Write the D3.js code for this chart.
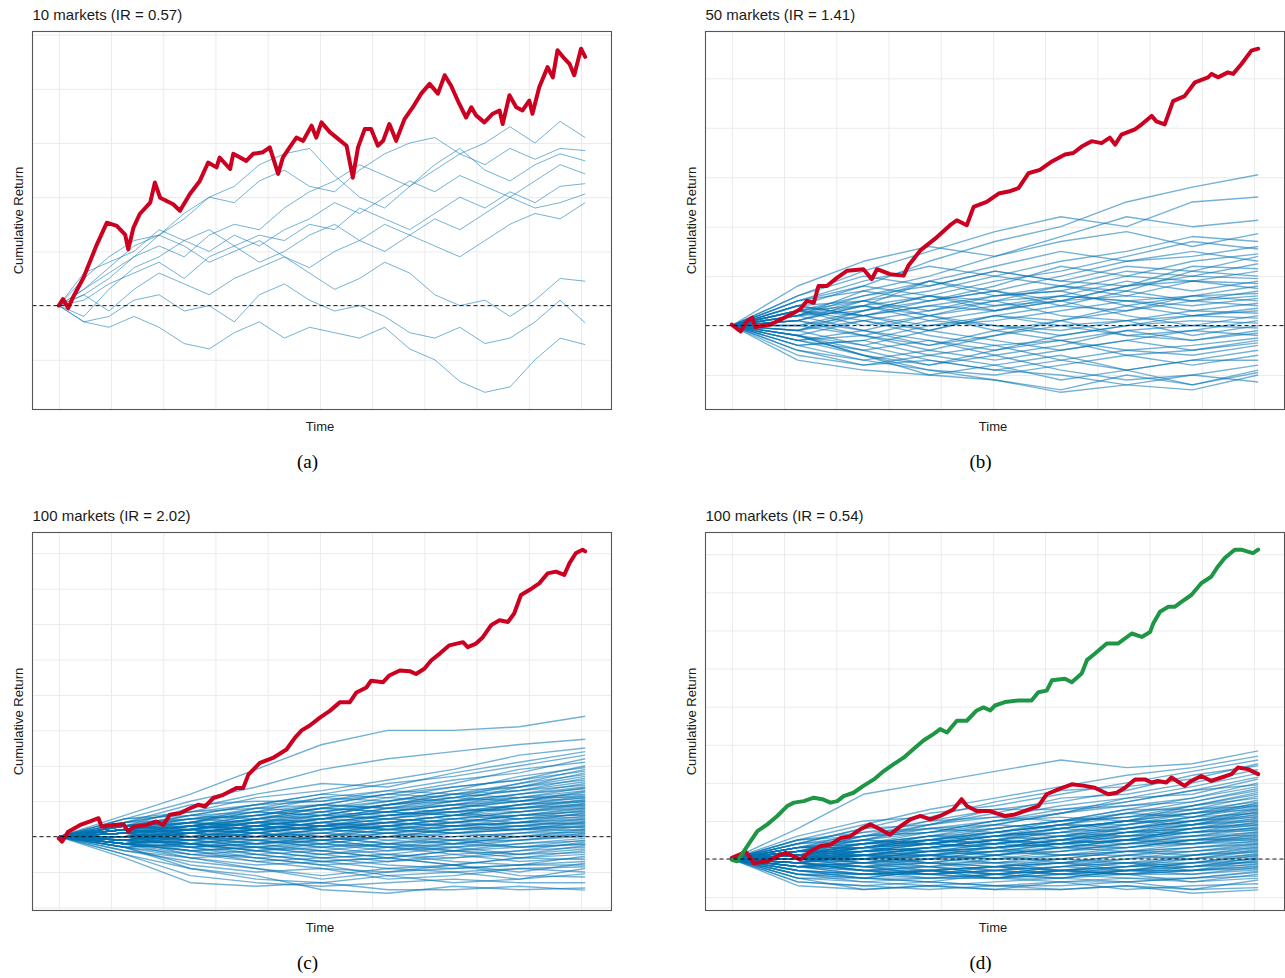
<!DOCTYPE html>
<html>
<head>
<meta charset="utf-8">
<script src="https://cdn.jsdelivr.net/npm/d3@7"></script>
<style>
  body { margin: 0; background: #fff; }
  svg { display: block; }
</style>
</head>
<body>
<div id="chart"></div>
<script>
// ---- data (cumulative return in grid units) ----
const titles = ["10 markets (IR = 0.57)", "50 markets (IR = 1.41)", "100 markets (IR = 2.02)", "100 markets (IR = 0.54)"];
const captions = ["(a)", "(b)", "(c)", "(d)"];

const timeA = [0,48,96,144,192,240,288,336,384,432,480,528,576,624,672,720,768,816,864,912,960,1008];
const timeB = [0,126,252,378,504,630,756,882,1008];

const blueA = [
  [0,0.3,0.7,1.1,1.3,1.6,2.0,2.2,2.6,2.8,2.9,2.4,2.0,1.8,2.2,2.5,2.8,3.0,3.3,3.0,3.4,3.10],
  [0,0.5,0.9,1.2,1.3,1.7,2.0,1.9,2.3,2.5,2.2,2.1,2.5,2.8,3.0,3.1,2.8,2.6,2.9,2.7,2.9,2.86],
  [0,0.2,0.5,0.9,1.1,0.9,1.3,1.5,1.4,1.8,2.1,2.3,2.6,2.4,2.2,2.6,2.9,2.5,2.3,2.6,2.8,2.67],
  [0,0.6,0.8,1.0,1.4,1.2,1.0,1.3,1.1,1.4,1.6,1.9,1.7,2.0,2.3,2.1,2.4,2.2,2.0,2.3,2.6,2.43],
  [0,0.1,0.4,0.6,0.8,0.5,0.9,1.1,1.3,1.2,1.5,1.4,1.8,1.6,1.4,1.7,2.0,1.8,2.1,1.9,2.2,2.25],
  [0,-0.2,0.3,0.7,0.9,1.2,1.4,1.1,0.8,1.0,1.3,1.5,1.2,1.0,1.3,1.6,1.4,1.7,2.0,1.8,1.9,2.06],
  [0,0.2,-0.1,0.3,0.6,0.4,0.2,0.5,0.7,0.9,0.7,1.0,1.2,1.5,1.3,1.1,0.9,1.2,1.5,1.7,1.6,1.90],
  [0,0.3,0.6,0.9,1.3,1.1,0.8,1.0,1.2,0.9,0.6,0.3,0.5,0.8,0.6,0.2,0.0,0.1,-0.2,0.1,0.5,0.45],
  [0,-0.3,-0.2,0.1,0.2,-0.1,0.0,-0.3,0.2,0.4,0.1,-0.1,0.0,-0.2,-0.5,-0.6,-0.4,-0.7,-0.6,-0.3,0.1,-0.32],
  [0,-0.3,-0.4,-0.2,-0.4,-0.7,-0.8,-0.5,-0.3,-0.6,-0.4,-0.5,-0.6,-0.4,-0.8,-1.0,-1.4,-1.6,-1.5,-1.0,-0.6,-0.72]
];

const redA = [
  [0,0],[8,0.12],[18,-0.05],[27,0.15],[47,0.51],[73,1.13],[92,1.53],[111,1.47],[127,1.31],[133,1.04],
  [143,1.44],[155,1.69],[175,1.90],[184,2.27],[194,1.99],[219,1.87],[232,1.75],[251,2.06],[270,2.30],
  [286,2.64],[302,2.55],[308,2.73],[328,2.52],[334,2.80],[359,2.67],[372,2.80],[391,2.83],[404,2.92],
  [420,2.43],[429,2.73],[442,2.92],[455,3.10],[468,3.04],[484,3.32],[493,3.10],[503,3.38],[519,3.20],
  [532,3.10],[551,2.95],[563,2.36],[573,2.92],[586,3.26],[598,3.26],[611,2.95],[621,3.04],[633,3.35],
  [646,3.04],[662,3.44],[678,3.66],[694,3.91],[710,4.09],[726,3.91],[739,4.25],[751,4.06],[767,3.72],
  [780,3.47],[790,3.66],[799,3.51],[815,3.38],[831,3.54],[844,3.60],[850,3.35],[863,3.88],[876,3.66],
  [888,3.60],[901,3.78],[907,3.54],[920,4.03],[936,4.40],[946,4.21],[955,4.71],[968,4.56],[978,4.46],
  [987,4.25],[1000,4.74],[1008,4.59]
];

const blueB = [
  [0,0.4,0.8,1.3,1.7,2.0,2.5,2.8,3.05],
  [0,0.6,1.1,1.5,1.9,2.2,2.0,2.5,2.6],
  [0,0.2,0.7,1.0,1.4,1.8,2.2,2.0,2.13],
  [0,0.8,1.3,1.6,1.4,1.7,1.9,1.6,1.86],
  [0,0.5,0.9,1.2,1.0,1.3,1.5,1.8,1.7],
  [0,0.3,0.4,0.9,1.2,1.5,1.3,1.4,1.6],
  [0,-0.1,0.3,0.6,0.9,1.1,1.4,1.7,1.55],
  [0,0.5,0.7,0.5,0.8,1.2,1.0,1.3,1.45],
  [0,0.2,0.6,0.8,1.1,0.9,1.2,1.1,1.4],
  [0,0.4,0.2,0.5,0.7,1.0,1.3,1.5,1.3],
  [0,0.1,0.5,0.9,0.6,0.8,1.1,1.0,1.25],
  [0,0.6,1.0,0.8,1.1,0.9,0.8,1.2,1.15],
  [0,0.3,0.2,0.4,0.6,0.7,1.0,0.9,1.1],
  [0,-0.2,0.1,0.3,0.5,0.8,0.7,1.1,1.0],
  [0,0.3,0.6,0.9,0.7,0.5,0.8,1.0,0.95],
  [0,0.1,0.4,0.2,0.5,0.6,0.9,0.7,0.9],
  [0,0.4,0.5,0.7,1.0,0.8,0.6,0.9,0.85],
  [0,-0.3,-0.1,0.2,0.4,0.6,0.5,0.6,0.8],
  [0,0.2,0.3,0.6,0.4,0.5,0.8,0.9,0.75],
  [0,0.5,0.8,0.6,0.3,0.5,0.6,0.5,0.7],
  [0,0.0,0.3,0.5,0.7,0.4,0.3,0.6,0.65],
  [0,0.3,0.1,-0.1,0.2,0.4,0.7,0.5,0.6],
  [0,-0.1,0.2,0.4,0.3,0.6,0.5,0.4,0.55],
  [0,0.2,0.5,0.3,0.6,0.7,0.4,0.6,0.5],
  [0,0.4,0.2,0.0,0.1,0.3,0.5,0.3,0.45],
  [0,-0.2,-0.4,-0.1,0.2,0.1,0.3,0.5,0.4],
  [0,0.1,0.4,0.6,0.5,0.2,0.1,0.2,0.35],
  [0,0.3,0.0,0.2,-0.1,0.1,0.4,0.2,0.3],
  [0,-0.3,-0.2,-0.5,-0.2,0.0,0.1,0.3,0.25],
  [0,0.2,0.4,0.1,0.3,0.5,0.2,0.0,0.2],
  [0,0.0,-0.2,0.1,0.0,-0.2,0.0,0.2,0.15],
  [0,-0.4,-0.3,0.0,0.2,0.0,-0.2,-0.1,0.1],
  [0,0.1,-0.1,-0.3,-0.5,-0.2,0.0,0.1,0.05],
  [0,0.3,0.5,0.2,0.0,-0.1,0.1,-0.2,0.0],
  [0,-0.1,0.1,-0.2,-0.4,-0.3,-0.1,0.0,-0.05],
  [0,0.2,-0.1,-0.4,-0.2,0.1,-0.2,-0.3,-0.1],
  [0,-0.2,-0.5,-0.3,-0.6,-0.4,-0.1,-0.3,-0.15],
  [0,0.0,0.2,-0.1,-0.3,-0.5,-0.3,-0.1,-0.2],
  [0,-0.3,-0.6,-0.8,-0.5,-0.3,-0.5,-0.4,-0.25],
  [0,0.1,-0.2,-0.4,-0.1,-0.3,-0.6,-0.5,-0.3],
  [0,-0.5,-0.7,-0.5,-0.7,-0.5,-0.3,-0.5,-0.35],
  [0,-0.1,-0.4,-0.7,-0.9,-0.7,-0.5,-0.6,-0.4],
  [0,-0.4,-0.3,-0.6,-0.4,-0.7,-0.9,-0.7,-0.5],
  [0,-0.2,-0.6,-0.9,-1.0,-0.8,-0.6,-0.8,-0.6],
  [0,-0.6,-0.8,-0.6,-0.8,-1.1,-0.9,-0.7,-0.7],
  [0,-0.3,-0.5,-0.8,-0.6,-0.9,-1.1,-1.0,-0.8],
  [0,-0.7,-0.9,-1.0,-1.1,-1.3,-1.0,-1.2,-0.9],
  [0,-0.5,-0.8,-0.7,-0.9,-1.0,-1.2,-1.3,-1.0],
  [0,-0.4,-0.7,-0.9,-1.1,-1.35,-1.2,-1.0,-1.14],
  [0,-0.2,-0.6,-1.0,-0.8,-0.6,-0.9,-1.2,-0.95]
];

const redB = [
  [0,0.02],[17,-0.12],[29,0.09],[39,0.16],[45,-0.03],[74,0.02],[93,0.12],[112,0.22],[131,0.33],[144,0.50],
  [157,0.46],[166,0.80],[182,0.80],[202,0.97],[221,1.11],[252,1.14],[268,0.94],[278,1.14],[303,1.04],
  [329,1.01],[338,1.21],[361,1.52],[393,1.79],[418,2.03],[431,2.13],[450,2.03],[463,2.40],[488,2.50],
  [511,2.67],[530,2.71],[549,2.78],[568,3.08],[590,3.15],[613,3.32],[638,3.46],[654,3.49],[670,3.62],
  [689,3.73],[708,3.69],[724,3.80],[734,3.66],[746,3.86],[772,3.97],[785,4.07],[804,4.24],[813,4.13],
  [829,4.07],[845,4.54],[867,4.64],[887,4.92],[912,5.02],[919,5.09],[931,5.02],[950,5.12],[960,5.09],
  [976,5.29],[995,5.56],[1008,5.60]
];

const blueC = [
  [0,0.6,1.2,1.9,2.6,3.0,3.0,3.1,3.4],
  [0,0.5,1.0,1.4,1.9,2.2,2.4,2.6,2.75],
  [0,0.4,0.7,1.1,1.3,1.6,1.9,2.3,2.5],
  [0,0.3,0.8,1.2,1.5,1.4,1.8,2.1,2.4],
  [0,0.5,0.6,0.9,1.2,1.5,1.7,2.0,2.3],
  [0,0.2,0.5,0.8,1.1,1.3,1.6,1.8,2.2],
  [0,0.4,0.9,1.0,1.0,1.2,1.5,1.9,2.1],
  [0,0.1,0.3,0.6,0.9,1.2,1.4,1.6,2.0],
  [0,0.3,0.6,0.7,1.1,1.0,1.3,1.7,1.95],
  [0,0.2,0.4,0.8,0.9,1.2,1.1,1.5,1.9],
  [0,0.5,0.7,0.9,1.2,1.1,1.4,1.6,1.85],
  [0,0.0,0.3,0.5,0.8,1.0,1.3,1.4,1.8],
  [0,0.3,0.5,0.4,0.7,0.9,1.2,1.5,1.75],
  [0,0.2,0.6,0.9,1.0,1.3,1.2,1.4,1.7],
  [0,-0.1,0.2,0.5,0.7,0.9,1.1,1.3,1.65],
  [0,0.4,0.5,0.6,0.8,0.7,1.0,1.4,1.6],
  [0,0.1,0.4,0.7,0.6,0.9,1.2,1.3,1.55],
  [0,0.3,0.2,0.5,0.8,1.1,1.0,1.2,1.5],
  [0,0.2,0.5,0.6,0.9,0.8,1.1,1.3,1.45],
  [0,0.0,0.1,0.4,0.6,0.9,1.0,1.2,1.4],
  [0,0.4,0.7,0.8,0.7,1.0,1.2,1.1,1.38],
  [0,0.1,0.3,0.2,0.5,0.7,0.9,1.2,1.35],
  [0,0.2,0.4,0.7,0.9,0.8,0.9,1.1,1.3],
  [0,-0.2,0.1,0.3,0.5,0.6,0.8,1.0,1.28],
  [0,0.3,0.6,0.5,0.6,0.9,1.1,1.0,1.25],
  [0,0.1,0.2,0.4,0.3,0.6,0.8,1.1,1.2],
  [0,0.2,0.3,0.6,0.8,0.7,0.9,1.0,1.18],
  [0,0.0,-0.1,0.2,0.4,0.6,0.7,0.9,1.15],
  [0,0.3,0.4,0.3,0.5,0.8,1.0,1.1,1.12],
  [0,0.1,0.4,0.6,0.5,0.7,0.6,0.9,1.1],
  [0,-0.1,0.2,0.1,0.3,0.5,0.8,1.0,1.08],
  [0,0.2,0.1,0.3,0.6,0.7,0.9,0.8,1.05],
  [0,0.3,0.5,0.7,0.6,0.5,0.7,0.9,1.02],
  [0,0.0,0.2,0.4,0.5,0.8,0.7,0.8,1.0],
  [0,0.1,-0.1,0.1,0.3,0.4,0.6,0.9,0.98],
  [0,0.2,0.3,0.5,0.7,0.6,0.8,0.7,0.95],
  [0,-0.2,0.0,0.2,0.2,0.4,0.6,0.8,0.92],
  [0,0.1,0.3,0.2,0.4,0.6,0.5,0.7,0.9],
  [0,0.3,0.2,0.4,0.6,0.5,0.7,0.8,0.88],
  [0,0.0,0.1,0.3,0.2,0.4,0.6,0.7,0.85],
  [0,0.2,0.4,0.3,0.5,0.7,0.6,0.6,0.82],
  [0,-0.1,0.1,0.0,0.2,0.3,0.5,0.7,0.8],
  [0,0.1,0.2,0.4,0.3,0.5,0.4,0.6,0.78],
  [0,0.2,0.0,0.2,0.4,0.6,0.7,0.5,0.75],
  [0,0.0,0.3,0.5,0.4,0.3,0.5,0.6,0.72],
  [0,-0.2,-0.1,0.1,0.3,0.2,0.4,0.6,0.7],
  [0,0.1,0.2,0.1,0.0,0.3,0.5,0.4,0.68],
  [0,0.3,0.4,0.2,0.3,0.5,0.4,0.5,0.65],
  [0,0.0,0.1,0.3,0.5,0.4,0.3,0.5,0.62],
  [0,-0.1,0.0,-0.1,0.1,0.3,0.4,0.6,0.6],
  [0,0.2,0.1,0.3,0.2,0.1,0.3,0.4,0.58],
  [0,0.1,0.3,0.4,0.3,0.4,0.6,0.5,0.55],
  [0,-0.2,-0.3,-0.1,0.0,0.2,0.3,0.4,0.52],
  [0,0.0,0.2,0.1,0.3,0.2,0.4,0.3,0.5],
  [0,0.1,-0.1,0.0,0.2,0.4,0.3,0.4,0.48],
  [0,0.2,0.3,0.2,0.1,0.0,0.2,0.3,0.45],
  [0,-0.1,0.1,0.3,0.2,0.3,0.1,0.2,0.42],
  [0,0.0,-0.2,-0.3,-0.1,0.1,0.2,0.3,0.4],
  [0,0.1,0.2,0.0,0.1,0.3,0.2,0.2,0.38],
  [0,-0.2,0.0,0.1,-0.1,0.0,0.2,0.4,0.35],
  [0,0.0,0.1,0.2,0.4,0.2,0.1,0.2,0.32],
  [0,0.2,0.0,-0.2,-0.1,0.1,0.0,0.1,0.3],
  [0,-0.1,-0.2,0.0,0.2,0.1,0.3,0.2,0.28],
  [0,0.1,0.3,0.1,-0.1,0.0,0.1,0.3,0.25],
  [0,0.0,-0.1,-0.2,0.0,-0.2,0.0,0.1,0.22],
  [0,-0.2,-0.1,0.1,0.0,0.2,0.1,0.0,0.2],
  [0,0.1,0.0,-0.1,-0.3,-0.1,0.1,0.2,0.18],
  [0,-0.1,0.1,0.0,0.1,-0.1,-0.2,0.0,0.15],
  [0,0.0,-0.2,-0.4,-0.2,0.0,-0.1,0.1,0.12],
  [0,0.2,0.1,0.0,-0.2,-0.3,-0.1,-0.1,0.1],
  [0,-0.1,-0.3,-0.2,0.0,0.1,-0.1,0.0,0.08],
  [0,0.1,0.0,0.2,0.0,-0.2,-0.3,-0.1,0.05],
  [0,-0.2,-0.4,-0.3,-0.5,-0.3,-0.2,0.0,0.02],
  [0,0.0,0.1,-0.1,-0.2,0.0,-0.2,-0.1,0.0],
  [0,-0.1,-0.2,0.0,-0.1,-0.3,-0.4,-0.2,-0.05],
  [0,0.1,-0.1,-0.3,-0.4,-0.2,-0.1,-0.3,-0.1],
  [0,-0.3,-0.2,-0.4,-0.3,-0.5,-0.3,-0.2,-0.12],
  [0,0.0,-0.3,-0.2,-0.1,-0.3,-0.5,-0.4,-0.15],
  [0,-0.1,0.0,-0.2,-0.4,-0.6,-0.4,-0.3,-0.2],
  [0,-0.2,-0.4,-0.6,-0.5,-0.4,-0.2,-0.3,-0.22],
  [0,0.1,-0.2,-0.1,-0.3,-0.2,-0.4,-0.5,-0.25],
  [0,-0.3,-0.5,-0.4,-0.6,-0.5,-0.6,-0.4,-0.3],
  [0,0.0,-0.1,-0.3,-0.2,-0.4,-0.3,-0.5,-0.35],
  [0,-0.2,-0.3,-0.5,-0.7,-0.6,-0.4,-0.6,-0.4],
  [0,-0.1,-0.4,-0.3,-0.5,-0.7,-0.6,-0.5,-0.45],
  [0,-0.3,-0.2,-0.5,-0.4,-0.6,-0.8,-0.6,-0.5],
  [0,-0.2,-0.5,-0.7,-0.6,-0.5,-0.7,-0.8,-0.55],
  [0,0.0,-0.3,-0.6,-0.8,-0.7,-0.5,-0.7,-0.6],
  [0,-0.4,-0.6,-0.5,-0.7,-0.9,-0.8,-0.6,-0.65],
  [0,-0.1,-0.2,-0.4,-0.6,-0.8,-0.9,-0.8,-0.7],
  [0,-0.3,-0.6,-0.8,-0.7,-0.6,-0.8,-1.0,-0.75],
  [0,-0.2,-0.4,-0.7,-0.9,-1.0,-0.9,-0.8,-0.8],
  [0,-0.4,-0.7,-0.9,-1.1,-0.9,-1.0,-0.9,-0.85],
  [0,-0.1,-0.5,-0.6,-0.8,-1.1,-1.0,-1.2,-0.9],
  [0,-0.3,-0.8,-1.0,-0.9,-1.2,-1.1,-0.9,-1.0],
  [0,-0.5,-0.9,-1.2,-1.3,-1.1,-1.3,-1.2,-1.05],
  [0,-0.2,-0.6,-0.9,-1.2,-1.0,-0.8,-1.1,-1.14],
  [0,-0.5,-1.1,-1.3,-1.4,-1.3,-1.2,-1.3,-1.3],
  [0,-0.3,-0.9,-1.1,-1.5,-1.6,-1.4,-1.5,-1.45],
  [0,-0.6,-1.3,-1.4,-1.3,-1.5,-1.5,-1.4,-1.51]
];

const redC = [
  [0,-0.05],[6,-0.14],[18,0.14],[41,0.33],[60,0.43],[76,0.52],[82,0.28],[104,0.33],[124,0.35],[133,0.14],
  [143,0.28],[168,0.33],[187,0.43],[200,0.33],[213,0.62],[232,0.66],[251,0.80],[267,0.90],[280,0.85],
  [296,1.09],[315,1.18],[340,1.37],[353,1.37],[363,1.75],[385,2.08],[410,2.22],[436,2.46],[452,2.79],
  [465,3.00],[480,3.13],[500,3.36],[519,3.55],[538,3.79],[557,3.79],[570,4.07],[589,4.21],[598,4.40],
  [621,4.36],[633,4.55],[653,4.69],[672,4.67],[684,4.59],[700,4.74],[713,4.97],[729,5.16],[748,5.40],
  [774,5.49],[783,5.35],[799,5.45],[812,5.63],[828,5.97],[844,6.11],[860,6.06],[872,6.30],[885,6.82],
  [901,6.96],[920,7.15],[936,7.43],[952,7.48],[968,7.39],[978,7.72],[990,8.00],[1003,8.10],[1008,8.05]
];

const blueD = [
  [0,0.8,1.7,2.0,2.3,2.6,2.4,2.5,2.84],
  [0,0.5,0.9,1.3,1.6,1.9,2.2,2.4,2.7],
  [0,0.4,0.8,1.2,1.4,1.7,2.0,2.3,2.6],
  [0,0.6,1.0,1.1,1.5,1.8,1.9,2.1,2.5],
  [0,0.3,0.7,1.0,1.3,1.5,1.8,2.2,2.45],
  [0,0.5,0.6,0.9,1.2,1.6,1.7,2.0,2.35],
  [0,0.2,0.6,1.0,1.1,1.4,1.6,1.9,2.25],
  [0,0.4,0.8,0.9,1.3,1.3,1.5,1.8,2.15],
  [0,0.3,0.5,0.8,1.0,1.2,1.6,1.7,2.1],
  [0,0.1,0.4,0.7,1.0,1.3,1.4,1.6,2.0],
  [0,0.5,0.7,0.8,0.9,1.2,1.5,1.8,1.95],
  [0,0.2,0.5,0.9,1.1,1.0,1.3,1.6,1.9],
  [0,0.3,0.4,0.6,0.9,1.2,1.4,1.5,1.85],
  [0,0.0,0.3,0.6,0.8,1.0,1.2,1.5,1.8],
  [0,0.4,0.6,0.7,1.0,1.1,1.0,1.4,1.75],
  [0,0.2,0.3,0.6,0.7,0.9,1.2,1.4,1.7],
  [0,0.3,0.6,0.8,0.7,1.0,1.3,1.3,1.65],
  [0,0.1,0.4,0.5,0.8,1.0,1.1,1.4,1.6],
  [0,0.2,0.5,0.4,0.6,0.9,1.1,1.2,1.55],
  [0,0.4,0.5,0.7,0.9,0.8,1.0,1.3,1.5],
  [0,0.0,0.2,0.5,0.7,0.9,1.2,1.1,1.48],
  [0,0.3,0.4,0.6,0.6,0.8,1.0,1.2,1.45],
  [0,0.1,0.3,0.4,0.7,0.9,0.9,1.1,1.42],
  [0,0.2,0.6,0.7,0.8,1.0,1.1,1.3,1.4],
  [0,-0.1,0.2,0.4,0.6,0.7,1.0,1.2,1.38],
  [0,0.3,0.3,0.5,0.7,0.9,0.8,1.1,1.35],
  [0,0.1,0.4,0.6,0.5,0.8,1.0,1.0,1.32],
  [0,0.2,0.2,0.4,0.6,0.7,0.9,1.2,1.3],
  [0,0.0,0.3,0.5,0.7,0.6,0.8,1.0,1.28],
  [0,0.3,0.5,0.4,0.6,0.8,1.0,0.9,1.25],
  [0,0.1,0.1,0.3,0.5,0.7,0.8,1.0,1.22],
  [0,0.2,0.4,0.5,0.4,0.6,0.9,1.1,1.2],
  [0,-0.1,0.2,0.3,0.5,0.6,0.7,0.9,1.18],
  [0,0.3,0.3,0.4,0.6,0.8,0.7,1.0,1.15],
  [0,0.1,0.3,0.5,0.6,0.5,0.8,0.9,1.12],
  [0,0.0,0.2,0.2,0.4,0.6,0.8,1.0,1.1],
  [0,0.2,0.4,0.4,0.5,0.7,0.6,0.8,1.08],
  [0,0.1,0.1,0.3,0.5,0.4,0.7,0.9,1.05],
  [0,-0.1,0.1,0.2,0.3,0.5,0.7,0.8,1.02],
  [0,0.2,0.3,0.5,0.4,0.6,0.6,0.9,1.0],
  [0,0.1,0.2,0.3,0.4,0.5,0.7,0.7,0.98],
  [0,0.0,0.0,0.2,0.4,0.6,0.5,0.8,0.95],
  [0,0.2,0.3,0.2,0.3,0.5,0.7,0.8,0.92],
  [0,-0.1,0.1,0.3,0.5,0.4,0.6,0.7,0.9],
  [0,0.1,0.3,0.4,0.3,0.4,0.5,0.8,0.88],
  [0,0.0,0.1,0.1,0.3,0.5,0.6,0.6,0.85],
  [0,0.2,0.2,0.3,0.5,0.3,0.5,0.7,0.82],
  [0,-0.2,0.0,0.2,0.2,0.4,0.6,0.7,0.8],
  [0,0.1,0.2,0.4,0.3,0.5,0.4,0.6,0.78],
  [0,0.0,0.2,0.1,0.3,0.4,0.5,0.7,0.75],
  [0,0.2,0.1,0.3,0.4,0.3,0.5,0.5,0.72],
  [0,-0.1,0.0,0.2,0.1,0.3,0.5,0.6,0.7],
  [0,0.1,0.3,0.2,0.3,0.4,0.3,0.5,0.68],
  [0,0.0,0.1,0.0,0.2,0.4,0.5,0.4,0.65],
  [0,-0.2,-0.1,0.1,0.2,0.2,0.4,0.6,0.62],
  [0,0.1,0.2,0.3,0.1,0.3,0.4,0.5,0.6],
  [0,0.0,-0.1,0.0,0.2,0.3,0.2,0.4,0.58],
  [0,0.2,0.1,0.2,0.3,0.1,0.3,0.5,0.55],
  [0,-0.1,0.1,0.1,0.0,0.2,0.4,0.4,0.52],
  [0,0.0,0.0,-0.1,0.1,0.3,0.3,0.5,0.5],
  [0,0.1,-0.1,0.1,0.2,0.1,0.2,0.3,0.48],
  [0,-0.2,-0.2,0.0,0.1,0.2,0.3,0.4,0.45],
  [0,0.0,0.1,-0.1,-0.1,0.1,0.2,0.3,0.42],
  [0,0.1,0.0,0.1,0.0,0.0,0.2,0.2,0.4],
  [0,-0.1,-0.2,-0.2,0.0,0.1,0.1,0.3,0.38],
  [0,0.0,0.0,0.1,-0.1,-0.1,0.1,0.2,0.35],
  [0,-0.2,-0.1,-0.3,-0.2,0.0,0.2,0.1,0.32],
  [0,0.1,-0.1,-0.1,0.1,-0.1,0.0,0.2,0.3],
  [0,-0.1,-0.3,-0.2,-0.1,0.0,-0.1,0.1,0.28],
  [0,0.0,0.1,-0.1,-0.2,-0.1,0.1,0.0,0.25],
  [0,-0.2,-0.2,-0.4,-0.3,-0.2,0.0,0.1,0.22],
  [0,0.0,-0.1,0.0,-0.1,-0.3,-0.1,0.0,0.2],
  [0,-0.1,-0.3,-0.3,-0.2,-0.1,-0.2,0.1,0.18],
  [0,0.1,0.0,-0.2,-0.3,-0.2,-0.1,-0.1,0.15],
  [0,-0.2,-0.4,-0.3,-0.4,-0.3,-0.2,0.0,0.12],
  [0,-0.1,-0.2,-0.1,-0.2,-0.4,-0.3,-0.1,0.1],
  [0,0.0,-0.2,-0.4,-0.5,-0.3,-0.2,-0.1,0.08],
  [0,-0.3,-0.4,-0.3,-0.2,-0.3,-0.4,-0.2,0.05],
  [0,-0.1,-0.3,-0.5,-0.4,-0.2,-0.3,-0.2,0.02],
  [0,-0.2,-0.3,-0.2,-0.4,-0.5,-0.3,-0.1,0.0],
  [0,0.0,-0.2,-0.3,-0.5,-0.4,-0.4,-0.3,-0.02],
  [0,-0.3,-0.4,-0.3,-0.2,-0.3,-0.3,-0.2,-0.05],
  [0,-0.1,-0.3,-0.4,-0.3,-0.1,-0.1,-0.2,-0.08],
  [0,-0.2,-0.1,-0.2,-0.4,-0.3,-0.2,-0.1,-0.1],
  [0,-0.4,-0.4,-0.4,-0.2,-0.1,-0.3,-0.3,-0.12],
  [0,-0.1,-0.2,-0.1,-0.3,-0.4,-0.2,-0.2,-0.15],
  [0,-0.3,-0.5,-0.3,-0.4,-0.2,-0.1,-0.3,-0.18],
  [0,-0.2,-0.3,-0.4,-0.5,-0.4,-0.3,-0.3,-0.2],
  [0,-0.4,-0.5,-0.5,-0.4,-0.5,-0.3,-0.4,-0.22],
  [0,-0.3,-0.4,-0.5,-0.5,-0.3,-0.4,-0.3,-0.25],
  [0,-0.5,-0.5,-0.3,-0.5,-0.5,-0.4,-0.4,-0.28],
  [0,-0.2,-0.4,-0.4,-0.3,-0.4,-0.5,-0.5,-0.32],
  [0,-0.4,-0.6,-0.5,-0.5,-0.6,-0.6,-0.5,-0.35],
  [0,-0.3,-0.5,-0.6,-0.4,-0.3,-0.4,-0.6,-0.4],
  [0,-0.5,-0.6,-0.7,-0.6,-0.5,-0.6,-0.5,-0.45],
  [0,-0.4,-0.5,-0.6,-0.7,-0.6,-0.5,-0.6,-0.5],
  [0,-0.6,-0.7,-0.6,-0.7,-0.8,-0.7,-0.8,-0.55],
  [0,-0.5,-0.8,-0.7,-0.8,-0.6,-0.8,-0.7,-0.65],
  [0,-0.6,-0.7,-0.8,-0.7,-0.7,-0.6,-0.8,-0.75],
  [0,-0.7,-0.8,-0.7,-0.8,-0.8,-0.7,-0.9,-0.81]
];

const redD = [
  [0,0.03],[16,0.12],[26,0.20],[36,0.03],[42,-0.11],[68,-0.06],[87,0.07],[103,0.16],[119,0.07],[131,-0.02],
  [150,0.20],[170,0.34],[189,0.38],[208,0.55],[227,0.60],[246,0.78],[265,0.91],[284,0.78],[303,0.64],
  [323,0.86],[342,1.04],[361,1.13],[380,1.04],[399,1.13],[424,1.30],[440,1.57],[450,1.39],[469,1.26],
  [495,1.26],[504,1.21],[523,1.13],[542,1.17],[568,1.30],[587,1.39],[603,1.70],[625,1.83],[651,1.96],
  [676,1.92],[695,1.87],[721,1.70],[737,1.74],[753,1.87],[772,2.09],[791,2.09],[804,2.01],[816,2.05],
  [832,2.01],[842,2.14],[867,1.92],[880,2.05],[899,2.18],[918,2.05],[938,2.14],[957,2.23],[969,2.40],
  [988,2.36],[1008,2.23]
];

const greenD = [
  [0,-0.02],[10,-0.06],[23,0.20],[36,0.47],[49,0.73],[68,0.91],[87,1.13],[106,1.39],[119,1.48],[138,1.52],
  [157,1.61],[173,1.57],[189,1.48],[202,1.52],[214,1.65],[233,1.74],[252,1.92],[272,2.09],[291,2.31],
  [310,2.49],[329,2.66],[348,2.89],[367,3.11],[386,3.28],[399,3.41],[412,3.32],[431,3.63],[450,3.63],
  [469,3.90],[482,3.98],[495,3.90],[504,4.03],[523,4.12],[549,4.16],[574,4.16],[587,4.38],[603,4.42],
  [613,4.69],[638,4.73],[651,4.64],[670,4.87],[680,5.22],[695,5.39],[718,5.66],[740,5.66],[766,5.92],
  [785,5.83],[801,5.96],[807,6.18],[820,6.49],[836,6.62],[848,6.62],[861,6.75],[880,6.93],[899,7.24],
  [918,7.41],[931,7.68],[944,7.90],[963,8.12],[976,8.12],[988,8.07],[998,8.03],[1008,8.12]
];

// ---- drawing ----
const RED = "#CC0020";
const GREEN = "#1E9646";
const BLUE = "#0072B2";
const W = 1285, H = 978;
const pw = 579, ph = 378;

const panels = [
  { x0: 32.5,  y0: 31.5,  blue: blueA, blueT: timeA, bw: 1.0, hi: [[redA, RED]] },
  { x0: 705.5, y0: 31.5,  blue: blueB, blueT: timeB, bw: 1.4, hi: [[redB, RED]] },
  { x0: 32.5,  y0: 532.5, blue: blueC, blueT: timeB, bw: 1.4, hi: [[redC, RED]] },
  { x0: 705.5, y0: 532.5, blue: blueD, blueT: timeB, bw: 1.4, hi: [[redD, RED], [greenD, GREEN]] }
];

const svg = d3.select("#chart").append("svg")
  .attr("width", W).attr("height", H)
  .style("font-family", "'Liberation Sans', Arial, sans-serif");

panels.forEach((p, i) => {
  const g = svg.append("g").attr("transform", `translate(${p.x0},${p.y0})`);

  // scales with ggplot-like 5% expansion
  const tExt = d3.extent(p.blueT);
  const tPad = (tExt[1] - tExt[0]) * 0.05;
  const x = d3.scaleLinear().domain([tExt[0] - tPad, tExt[1] + tPad]).range([0, pw]);

  const vals = p.blue.flat().concat(p.hi.flatMap(h => h[0].map(d => d[1])));
  const vExt = d3.extent(vals);
  const vPad = (vExt[1] - vExt[0]) * 0.05;
  const y = d3.scaleLinear().domain([vExt[0] - vPad, vExt[1] + vPad]).range([ph, 0]);

  // grid via axes without labels
  const xTicks = d3.range(0, tExt[1] + 1, 100);
  const yTicks = d3.range(Math.ceil(y.domain()[0]), Math.floor(y.domain()[1]) + 1, 1);

  const gx = g.append("g").attr("transform", `translate(0,${ph})`)
    .call(d3.axisBottom(x).tickValues(xTicks).tickSize(-ph).tickFormat(""));
  const gy = g.append("g")
    .call(d3.axisLeft(y).tickValues(yTicks).tickSize(-pw).tickFormat(""));
  [gx, gy].forEach(a => {
    a.select(".domain").remove();
    a.selectAll("line").attr("stroke", "#ebebeb").attr("stroke-width", 1);
  });

  const clipId = "clip" + i;
  g.append("clipPath").attr("id", clipId)
    .append("rect").attr("width", pw).attr("height", ph);

  const plot = g.append("g").attr("clip-path", `url(#${clipId})`);

  const blueLine = d3.line()
    .x((d, j) => x(p.blueT[j]))
    .y(d => y(d));

  plot.selectAll(".market")
    .data(p.blue)
    .enter().append("path")
    .attr("class", "market")
    .attr("d", blueLine)
    .attr("fill", "none")
    .attr("stroke", BLUE)
    .attr("stroke-opacity", 0.55)
    .attr("stroke-width", p.bw)
    .attr("stroke-linejoin", "round");

  const hiLine = d3.line().x(d => x(d[0])).y(d => y(d[1]));
  p.hi.forEach(h => {
    plot.append("path")
      .attr("d", hiLine(h[0]))
      .attr("fill", "none")
      .attr("stroke", h[1])
      .attr("stroke-width", 4)
      .attr("stroke-linejoin", "round")
      .attr("stroke-linecap", "round");
  });

  // zero line
  g.append("line")
    .attr("x1", 0).attr("x2", pw)
    .attr("y1", y(0)).attr("y2", y(0))
    .attr("stroke", "#000")
    .attr("stroke-width", 0.9)
    .attr("stroke-dasharray", "4,3");

  // panel border
  g.append("rect")
    .attr("width", pw).attr("height", ph)
    .attr("fill", "none")
    .attr("stroke", "#555")
    .attr("stroke-width", 1.1);

  // texts
  g.append("text")
    .attr("x", 0).attr("y", -11.5)
    .attr("font-size", 15)
    .attr("fill", "#1a1a1a")
    .text(titles[i]);

  g.append("text")
    .attr("x", pw / 2 - 2).attr("y", ph + 21.5)
    .attr("text-anchor", "middle")
    .attr("font-size", 13)
    .attr("fill", "#1a1a1a")
    .text("Time");

  g.append("text")
    .attr("transform", `translate(-9.5,${ph / 2}) rotate(-90)`)
    .attr("text-anchor", "middle")
    .attr("font-size", 13)
    .attr("fill", "#1a1a1a")
    .text("Cumulative Return");

  g.append("text")
    .attr("x", 275).attr("y", ph + 58)
    .attr("text-anchor", "middle")
    .attr("font-family", "'Liberation Serif', 'Times New Roman', serif")
    .attr("font-size", 19)
    .attr("fill", "#000")
    .text(captions[i]);
});
</script>
</body>
</html>
